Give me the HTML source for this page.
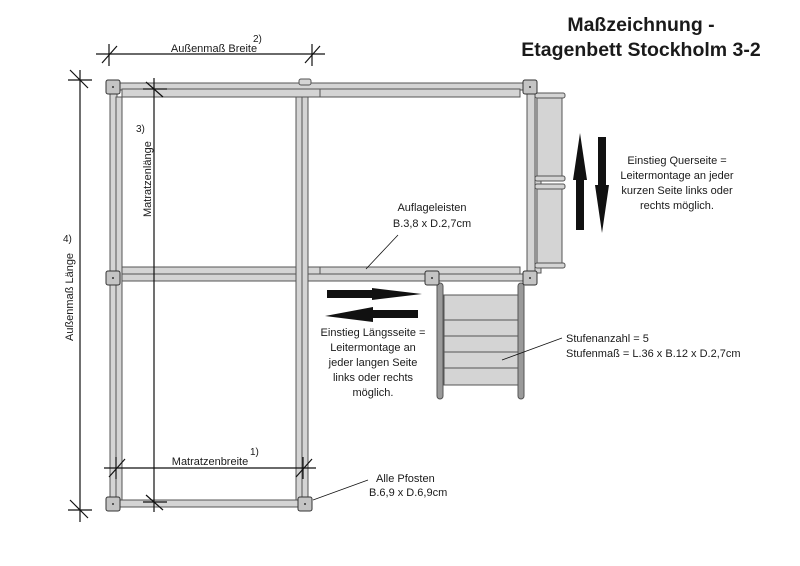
<!DOCTYPE html>
<html><head><meta charset="utf-8"><style>
html,body{margin:0;padding:0;background:#fff}
svg{display:block}
text{font-family:"Liberation Sans",sans-serif;fill:#1a1a1a}
</style></head><body>
<svg width="800" height="566" viewBox="0 0 800 566" xmlns="http://www.w3.org/2000/svg">
<g stroke="#555" stroke-width="1" fill="#d4d4d4">
<rect x="118" y="83" width="412" height="7"/>
<rect x="122" y="89" width="398" height="8"/>
<line x1="320" y1="89" x2="320" y2="97"/>
<rect x="122" y="267" width="398" height="7"/>
<rect x="118" y="274" width="412" height="7"/>
<line x1="320" y1="267" x2="320" y2="274"/>
<rect x="118" y="500" width="188" height="7"/>
<rect x="110" y="92" width="7" height="408"/>
<rect x="116" y="97" width="6" height="403"/>
<rect x="296" y="97" width="6" height="403"/>
<rect x="302" y="97" width="6" height="403"/>
<rect x="527" y="93" width="8" height="180"/>
<rect x="535" y="93" width="6" height="180"/>
<rect x="537" y="95" width="25" height="85" rx="2"/>
<rect x="537" y="186" width="25" height="80" rx="2"/>
<rect x="535" y="93" width="30" height="5" rx="2"/>
<rect x="535" y="176" width="30" height="5" rx="2"/>
<rect x="535" y="184" width="30" height="5" rx="2"/>
<rect x="535" y="263" width="30" height="5" rx="2"/>
<rect x="444" y="295" width="75" height="90"/>
<line x1="444" y1="320" x2="519" y2="320"/>
<line x1="444" y1="336" x2="519" y2="336"/>
<line x1="444" y1="352" x2="519" y2="352"/>
<line x1="444" y1="368" x2="519" y2="368"/>
<rect x="437" y="283" width="6" height="116" rx="3" fill="#9a9a9a"/>
<rect x="518" y="283" width="6" height="116" rx="3" fill="#9a9a9a"/>
<rect x="106" y="80" width="14" height="14" rx="2" fill="#c4c4c4" stroke="#333"/>
<rect x="299" y="79" width="12" height="6" rx="2"/>
<rect x="523" y="80" width="14" height="14" rx="2" fill="#c4c4c4" stroke="#333"/>
<rect x="106" y="271" width="14" height="14" rx="2" fill="#c4c4c4" stroke="#333"/>
<rect x="425" y="271" width="14" height="14" rx="2" fill="#c4c4c4" stroke="#333"/>
<rect x="523" y="271" width="14" height="14" rx="2" fill="#c4c4c4" stroke="#333"/>
<rect x="106" y="497" width="14" height="14" rx="2" fill="#c4c4c4" stroke="#333"/>
<rect x="298" y="497" width="14" height="14" rx="2" fill="#c4c4c4" stroke="#333"/>
</g>
<g fill="#333"><circle cx="113" cy="87" r="1"/><circle cx="530" cy="87" r="1"/><circle cx="113" cy="278" r="1"/><circle cx="432" cy="278" r="1"/><circle cx="530" cy="278" r="1"/><circle cx="113" cy="504" r="1"/><circle cx="305" cy="504" r="1"/></g>
<g stroke="#111" stroke-width="1.2" fill="none">
<line x1="96" y1="54" x2="325" y2="54"/>
<line x1="109" y1="44" x2="109" y2="66"/><line x1="102" y1="63" x2="117" y2="46"/>
<line x1="312" y1="44" x2="312" y2="66"/><line x1="305" y1="63" x2="320" y2="46"/>
<line x1="80" y1="70" x2="80" y2="522"/>
<line x1="68" y1="80" x2="92" y2="80"/><line x1="70" y1="70" x2="88" y2="88"/>
<line x1="68" y1="510" x2="92" y2="510"/><line x1="70" y1="500" x2="88" y2="518"/>
<line x1="154" y1="78" x2="154" y2="512"/>
<line x1="143" y1="89" x2="167" y2="89"/><line x1="146" y1="82" x2="163" y2="97"/>
<line x1="143" y1="502" x2="167" y2="502"/><line x1="146" y1="495" x2="163" y2="510"/>
<line x1="104" y1="468" x2="316" y2="468"/>
<line x1="116" y1="457" x2="116" y2="479"/><line x1="109" y1="477" x2="125" y2="459"/>
<line x1="303" y1="457" x2="303" y2="479"/><line x1="296" y1="477" x2="312" y2="459"/>
<line x1="366" y1="269" x2="398" y2="235" stroke-width="0.8"/>
<line x1="502" y1="360" x2="562" y2="338" stroke-width="0.8"/>
<line x1="313" y1="500" x2="368" y2="480" stroke-width="0.8"/>
</g>
<g fill="#111">
<polygon points="327,290 372,290 372,288 422,294 372,300 372,298 327,298"/>
<polygon points="418,310 373,310 373,307 325,316 373,322 373,318 418,318"/>
<polygon points="576,230 584,230 584,180 587,180 580,133 573,180 576,180"/>
<polygon points="598,137 606,137 606,185 609,185 602,233 595,185 598,185"/>
</g>
<text x="641" y="31" font-size="19.5" font-weight="bold" text-anchor="middle">Maßzeichnung -</text>
<text x="641" y="56" font-size="19.5" font-weight="bold" text-anchor="middle">Etagenbett Stockholm 3-2</text>
<text x="214" y="52" font-size="11" text-anchor="middle">Außenmaß Breite</text>
<text x="253" y="42" font-size="10">2)</text>
<text x="136" y="132" font-size="10">3)</text>
<text transform="translate(151,217) rotate(-90)" font-size="11">Matratzenlänge</text>
<text transform="translate(73,341) rotate(-90)" font-size="11">Außenmaß Länge</text>
<text x="63" y="242" font-size="10">4)</text>
<text x="210" y="465" font-size="11" text-anchor="middle">Matratzenbreite</text>
<text x="250" y="455" font-size="10">1)</text>
<text x="432" y="211" font-size="11" text-anchor="middle">Auflageleisten</text>
<text x="432" y="227" font-size="11" text-anchor="middle">B.3,8 x D.2,7cm</text>
<text x="373" y="336" font-size="11" text-anchor="middle">Einstieg Längsseite =</text>
<text x="373" y="351" font-size="11" text-anchor="middle">Leitermontage an</text>
<text x="373" y="366" font-size="11" text-anchor="middle">jeder langen Seite</text>
<text x="373" y="381" font-size="11" text-anchor="middle">links oder rechts</text>
<text x="373" y="396" font-size="11" text-anchor="middle">möglich.</text>
<text x="677" y="164" font-size="11" text-anchor="middle">Einstieg Querseite =</text>
<text x="677" y="179" font-size="11" text-anchor="middle">Leitermontage an jeder</text>
<text x="677" y="194" font-size="11" text-anchor="middle">kurzen Seite links oder</text>
<text x="677" y="209" font-size="11" text-anchor="middle">rechts möglich.</text>
<text x="566" y="342" font-size="11">Stufenanzahl = 5</text>
<text x="566" y="357" font-size="11">Stufenmaß = L.36 x B.12 x D.2,7cm</text>
<text x="376" y="482" font-size="11">Alle Pfosten</text>
<text x="369" y="496" font-size="11">B.6,9 x D.6,9cm</text>
</svg>
</body></html>
